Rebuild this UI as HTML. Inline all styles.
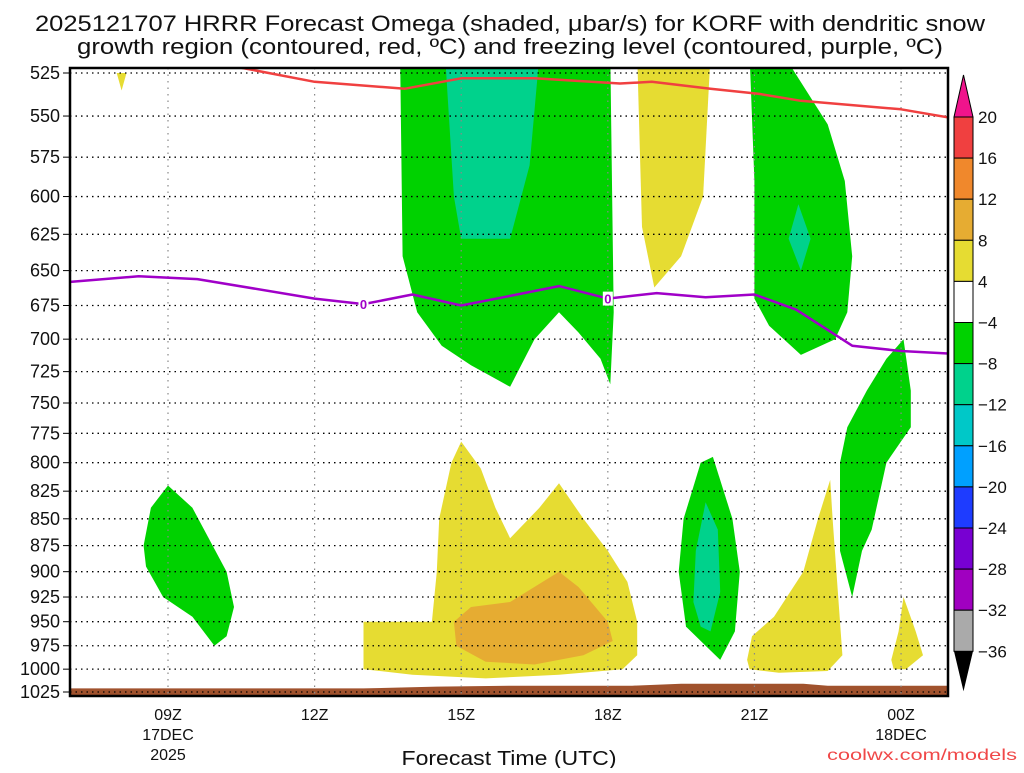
<!DOCTYPE html>
<html><head><meta charset="utf-8">
<style>
body{margin:0;background:#fff;width:1024px;height:768px;overflow:hidden;font-family:"Liberation Sans",sans-serif;}
svg text{font-family:"Liberation Sans",sans-serif;}
</style></head>
<body>
<svg id="chart" width="1024" height="768" viewBox="0 0 1024 768" xmlns="http://www.w3.org/2000/svg">
<text x="510" y="31" font-size="22" text-anchor="middle" fill="#111" textLength="950" lengthAdjust="spacingAndGlyphs">2025121707 HRRR Forecast Omega (shaded, μbar/s) for KORF with dendritic snow</text>
<text x="510" y="54" font-size="22" text-anchor="middle" fill="#111" textLength="866" lengthAdjust="spacingAndGlyphs">growth region (contoured, red, ºC) and freezing level (contoured, purple, ºC)</text>
<defs><clipPath id="plotclip"><rect x="70" y="68" width="878" height="628"/></clipPath></defs>
<g id="shading" clip-path="url(#plotclip)"></g>
<g id="grid"></g>
<g id="lines" clip-path="url(#plotclip)"></g>
<rect x="70" y="68" width="878" height="628" fill="none" stroke="#000" stroke-width="2.5"/>
<g id="axes"></g>
<g id="cbar"></g>
<text x="509" y="765" font-size="20" text-anchor="middle" fill="#111" textLength="215" lengthAdjust="spacingAndGlyphs">Forecast Time (UTC)</text>
<text x="1017" y="760" font-size="16" text-anchor="end" fill="#f04848" textLength="190" lengthAdjust="spacingAndGlyphs">coolwx.com/models</text>
</svg>
<script>
const NS="http://www.w3.org/2000/svg";
const pressureTicks=[525,550,575,600,625,650,675,700,725,750,775,800,825,850,875,900,925,950,975,1000,1025];
const timeTicks=[9,12,15,18,21,24];
const timeLabels=["09Z","12Z","15Z","18Z","21Z","00Z"];
const dateLabels=[["17DEC","2025"],[],[],[],[],["18DEC"]];
const cbLevels=[20,16,12,8,4,-4,-8,-12,-16,-20,-24,-28,-32,-36];
const cbColors=["#f04040","#f0882c","#e6ac32","#e6dc32","#ffffff","#00d200","#00d28c","#00c8c8","#00a0ff","#1e3cff","#7800d2","#a000c0","#aaaaaa"];
// polygons in [hour, hPa]
const greenA=[[13.75,515],[13.8,640],[14.1,680],[14.6,705],[15.2,720],[16.0,737],[16.5,700],[17.0,680],[17.4,695],[17.85,715],[18.05,735],[18.12,680],[18.05,515]];
const tealA=[[14.67,515],[14.85,600],[15.0,628],[16.0,628],[16.4,580],[16.6,515]];
const yellowTop=[[18.6,515],[18.7,620],[18.95,662],[19.5,640],[19.95,600],[20.1,515]];
const greenB=[[20.9,515],[21.0,590],[21.0,670],[21.3,690],[21.95,712],[22.65,700],[22.9,680],[23.0,640],[22.85,590],[22.5,555],[21.6,515]];
const tealB=[[21.9,605],[22.15,628],[21.95,650],[21.7,628]];
const greenC=[[24.05,700],[24.2,740],[24.2,770],[23.7,800],[23.4,860],[23.2,880],[23.0,925],[22.75,880],[22.75,800],[22.9,770],[23.3,740],[23.7,715]];
const greenD=[[8.5,875],[8.65,840],[9.0,820],[9.5,840],[10.2,900],[10.35,935],[10.2,965],[9.95,975],[9.5,945],[8.9,925],[8.55,895]];
const greenE=[[19.45,900],[19.55,850],[19.9,800],[20.15,795],[20.55,850],[20.7,900],[20.6,960],[20.3,990],[20.0,975],[19.6,955]];
const tealE=[[19.8,880],[20.0,835],[20.25,860],[20.3,920],[20.1,960],[19.9,955],[19.75,930]];
const yellowF=[[13.0,950],[14.4,950],[14.5,900],[14.55,850],[14.8,800],[15.0,782],[15.4,805],[15.7,840],[16.0,868],[16.6,840],[17.0,818],[17.5,850],[18.0,880],[18.4,910],[18.6,950],[18.6,985],[18.3,1000],[17.0,1006],[15.5,1010],[14.0,1006],[13.0,1000]];
const orangeF=[[14.85,950],[15.2,935],[16.0,930],[17.0,900],[17.4,915],[18.0,950],[18.1,970],[17.5,985],[16.5,995],[15.5,992],[14.9,975]];
const yellowG=[[20.85,990],[20.95,965],[21.4,945],[22.0,900],[22.3,850],[22.55,815],[22.6,850],[22.8,985],[22.5,1002],[21.5,1004],[20.9,1000]];
const yellowH=[[23.8,990],[23.95,960],[24.05,925],[24.3,960],[24.45,985],[24.1,1000],[23.85,1000]];
const yellowTiny=[[7.95,525],[8.15,525],[8.05,535]];
const groundTime=[7,13,14.5,16,18.5,19.5,22,22.5,25.2];
const groundP=[1021,1021,1019,1018,1018,1016,1016,1018,1018];
const redTime=[10.0,10.3,12.0,13.85,15.0,16.5,18.25,18.9,20.1,21.1,21.95,24.0,25.0];
const redP=[518,521,530,534,528,528,531,530,534,537,541,546,551];
const purpleTime=[7,8.4,9.6,12,13,14,15,16,17,18,19,20,21,21.85,23,24,25];
const purpleP=[658,654,656,670,674,667,675,668,661,670,666,669,667,678,705,709,711];
const purpleLabelTimes=[13,18];

const X=h=>168+(h-9)*48.87;
const Y=p=>73+619*Math.log(p/525)/Math.log(1025/525);
function mk(tag,attrs,parent){const e=document.createElementNS(NS,tag);for(const k in attrs)e.setAttribute(k,attrs[k]);parent.appendChild(e);return e;}
const shading=document.getElementById('shading'),grid=document.getElementById('grid'),lines=document.getElementById('lines'),axes=document.getElementById('axes'),cbar=document.getElementById('cbar');
const polys=[[greenA,"#00d200","region-green-a"],[tealA,"#00d28c","region-teal-a"],[yellowTop,"#e6dc32","region-yellow-top"],[greenB,"#00d200","region-green-b"],[tealB,"#00d28c","region-teal-b"],[greenC,"#00d200","region-green-c"],[greenD,"#00d200","region-green-d"],[greenE,"#00d200","region-green-e"],[tealE,"#00d28c","region-teal-e"],[yellowF,"#e6dc32","region-yellow-f"],[orangeF,"#e6ac32","region-orange-f"],[yellowG,"#e6dc32","region-yellow-g"],[yellowH,"#e6dc32","region-yellow-h"],[yellowTiny,"#e6dc32","region-yellow-tiny"]];
polys.forEach(([pts,col,name])=>{
  const e=mk('polygon',{points:pts.map(q=>X(q[0]).toFixed(1)+','+Y(q[1]).toFixed(1)).join(' '),fill:col},shading);
  
  
});
let gp='M'+X(groundTime[0])+',700';
groundTime.forEach((t,i)=>{gp+=' L'+X(t).toFixed(1)+','+Y(groundP[i]).toFixed(1);});
gp+=' L'+X(groundTime[groundTime.length-1])+',700 Z';
const ground=mk('path',{d:gp,fill:"#a0522d"},shading);


pressureTicks.forEach(p=>{
  const l=mk('line',{x1:70,x2:948,y1:Y(p),y2:Y(p),stroke:"#000","stroke-width":1.3,"stroke-dasharray":"1.5 4"},grid);
  
  
  const t=mk('text',{x:60,y:Y(p)+6,"font-size":18,"text-anchor":"end",fill:"#111"},axes);
  t.textContent=p;
  
  
  mk('line',{x1:63,x2:69,y1:Y(p),y2:Y(p),stroke:"#000","stroke-width":1},axes);
});
timeTicks.forEach((h,i)=>{
  const l=mk('line',{x1:X(h),x2:X(h),y1:68,y2:696,stroke:"#888","stroke-width":1.2,"stroke-dasharray":"1.5 5"},grid);
  
  
  const t=mk('text',{x:X(h),y:720,"font-size":16,"text-anchor":"middle",fill:"#111"},axes);
  t.textContent=timeLabels[i];
  
  
  dateLabels[i].forEach((d,j)=>{
    const s=mk('text',{x:X(h),y:740+j*20,"font-size":16,"text-anchor":"middle",fill:"#111"},axes);
    s.textContent=d;
    
    
  });
});
function line(ts,ps,col,name){
  const d=ts.map((t,i)=>(i?'L':'M')+X(t).toFixed(1)+','+Y(ps[i]).toFixed(1)).join(' ');
  const e=mk('path',{d:d,fill:"none",stroke:col,"stroke-width":2.5,"stroke-linejoin":"round"},lines);
  
  
}
line(redTime,redP,"#f04040","dendritic-contour-red");
line(purpleTime,purpleP,"#a000c8","freezing-level-purple");
purpleLabelTimes.forEach(t=>{
  let i=purpleTime.indexOf(t);const p=purpleP[i];
  mk('rect',{x:X(t)-5,y:Y(p)-7,width:10,height:14,fill:"#fff"},lines);
  const tx=mk('text',{x:X(t),y:Y(p)+5,"font-size":13,"font-weight":"bold","text-anchor":"middle",fill:"#a000c8"},lines);
  tx.textContent="0";
  
  
});
const cbx=954,cbw=19,cbTop=117,step=41.1;
const up=mk('polygon',{points:`${cbx},${cbTop} ${cbx+cbw},${cbTop} ${cbx+cbw/2},${cbTop-42}`,fill:"#f0148c",stroke:"#000","stroke-width":1},cbar);


cbColors.forEach((c,i)=>{
  const r=mk('rect',{x:cbx,y:cbTop+i*step,width:cbw,height:step,fill:c,stroke:"#000","stroke-width":1},cbar);
  
  
});
const bot=cbTop+cbColors.length*step;
const dn=mk('polygon',{points:`${cbx},${bot} ${cbx+cbw},${bot} ${cbx+cbw/2},${bot+40}`,fill:"#000"},cbar);


cbLevels.forEach((v,i)=>{
  const t=mk('text',{x:978,y:cbTop+i*step+6,"font-size":17,fill:"#111"},cbar);
  t.textContent=(v<0?'\u2212'+(-v):v);
  
  
});
</script>
</body></html>
